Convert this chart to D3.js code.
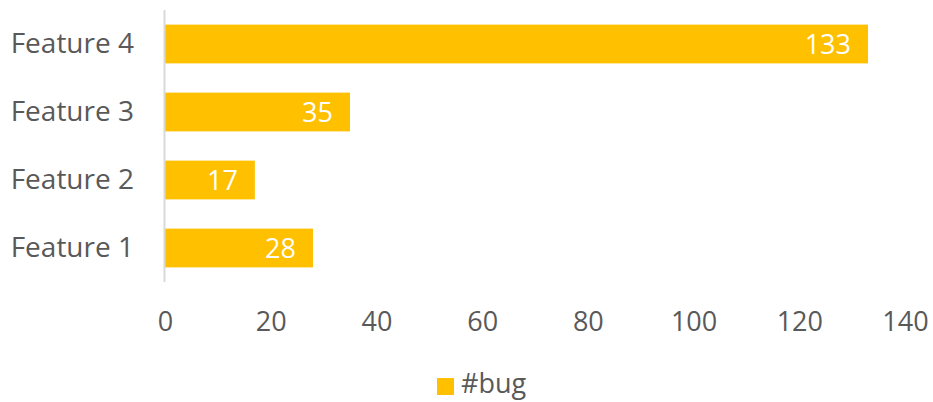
<!DOCTYPE html>
<html>
<head>
<meta charset="utf-8">
<script src="https://cdn.jsdelivr.net/npm/d3@7"></script>
<style>
  html, body { margin: 0; padding: 0; background: #fff; }
  svg { display: block; font-family: "Open Sans", sans-serif; }
</style>
</head>
<body>
<svg id="chart" width="933" height="402"></svg>
<script>
const categories = ["Feature 4", "Feature 3", "Feature 2", "Feature 1"];
const bugValues = [133, 35, 17, 28];
const xTicks = [0, 20, 40, 60, 80, 100, 120, 140];
const seriesName = "#bug";

const svg = d3.select("#chart");
const x = d3.scaleLinear().domain([0, 140]).range([165, 905]);
const y = d3.scaleBand().domain(categories).range([10, 282]).paddingInner(0.43).paddingOuter(0.215);

const data = categories.map((c, i) => ({ cat: c, val: bugValues[i] }));

// bars
svg.selectAll("rect.bar").data(data).join("rect")
  .attr("class", "bar")
  .attr("x", x(0))
  .attr("y", d => y(d.cat))
  .attr("width", d => x(d.val) - x(0))
  .attr("height", y.bandwidth())
  .attr("fill", "#FFC000");

// vertical axis line
svg.append("line")
  .attr("x1", 164.5).attr("x2", 164.5)
  .attr("y1", 10).attr("y2", 282)
  .attr("stroke", "#d9d9d9").attr("stroke-width", 2);

// category labels
const yAxis = d3.axisLeft(y).tickSize(0).tickPadding(30);
const gy = svg.append("g").attr("transform", "translate(164,0)").call(yAxis);
gy.select(".domain").remove();
gy.selectAll("text").attr("fill", "#595959").style("font-size", "28px")
  .style("font-family", "'Open Sans', sans-serif");

// x axis labels
const xAxis = d3.axisBottom(x).tickValues(xTicks).tickSize(0).tickPadding(0);
const gx = svg.append("g").attr("transform", "translate(0,312)").call(xAxis);
gx.select(".domain").remove();
gx.selectAll("text").attr("fill", "#595959").style("font-size", "27px")
  .style("font-family", "'Open Sans', sans-serif");

// data labels
svg.selectAll("text.dl").data(data).join("text")
  .attr("class", "dl")
  .attr("x", d => x(d.val) - 17)
  .attr("y", d => y(d.cat) + y.bandwidth() / 2)
  .attr("dy", "0.36em")
  .attr("text-anchor", "end")
  .attr("fill", "#ffffff")
  .style("font-size", "27px")
  .text(d => d.val);

// legend
const lg = svg.append("g");
lg.append("rect").attr("x", 437).attr("y", 378).attr("width", 17).attr("height", 17).attr("fill", "#FFC000");
lg.append("text").attr("x", 461).attr("y", 393)
  .attr("fill", "#595959").style("font-size", "27px").text(seriesName);
</script>
</body>
</html>
